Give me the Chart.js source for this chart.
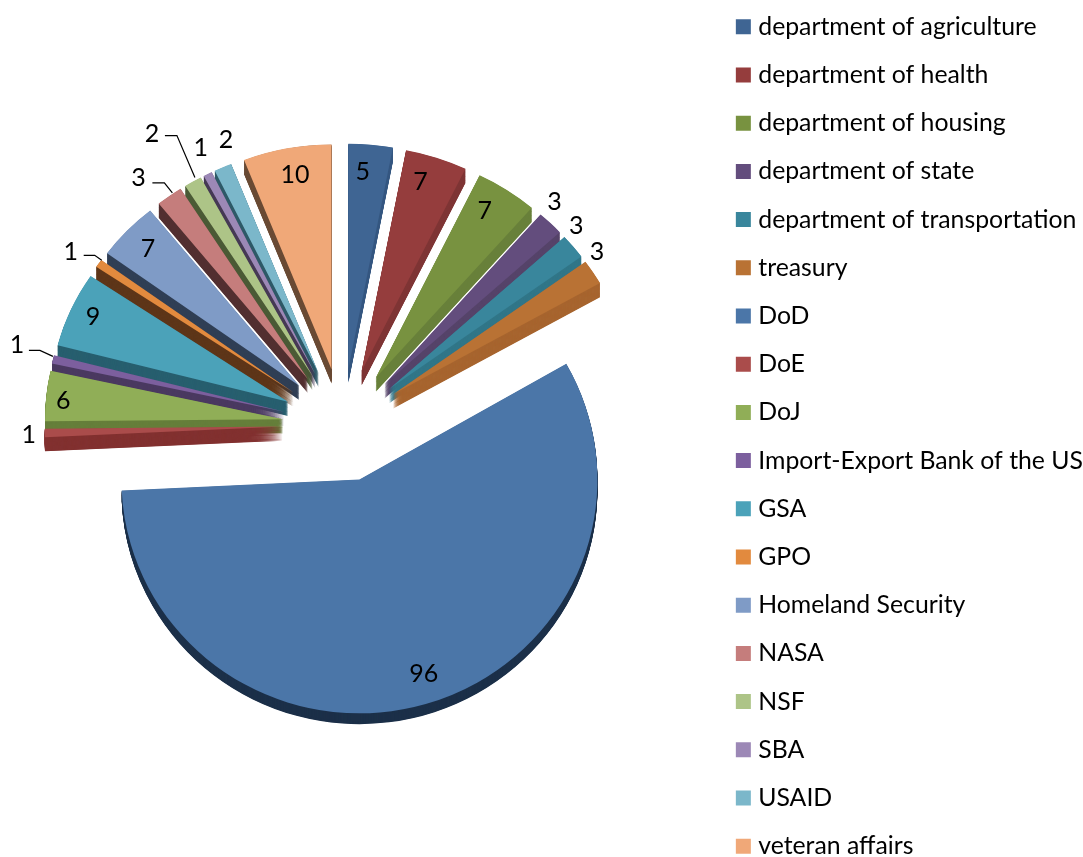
<!DOCTYPE html>
<html>
<head>
<meta charset="utf-8">
<title>Pie</title>
<script src="https://cdn.jsdelivr.net/npm/chart.js@4"></script>
<style>
    html, body { margin: 0; padding: 0; background: #fff; overflow: hidden; width: 1083px; height: 857px; }
    #wrap { position: absolute; left: 0; top: 0; width: 1083px; height: 857px; overflow: hidden; }
    #myChart { position: absolute; left: -12px; top: -9px; }
</style>
</head>
<body>
<div id="wrap"><canvas id="myChart" width="1109" height="900"></canvas></div>
<script>
var categories = ['department of agriculture', 'department of health', 'department of housing', 'department of state',
    'department of transportation', 'treasury', 'DoD', 'DoE', 'DoJ', 'Import-Export Bank of the US', 'GSA', 'GPO',
    'Homeland Security', 'NASA', 'NSF', 'SBA', 'USAID', 'veteran affairs'];
var values = [5, 7, 7, 3, 3, 3, 96, 1, 6, 1, 9, 1, 7, 3, 2, 1, 2, 10];

var faceColors = ['#3f6593', '#953d3d', '#789240', '#634d7d', '#39869c', '#b97234', '#4b76a8', '#aa4c4b', '#90ae57',
    '#7c5f9e', '#4ba2b9', '#e28a3e', '#7f9bc6', '#c57d7c', '#adc487', '#9c88b6', '#7bb7ca', '#f0a878'];
var wallColors = ['#365882', '#7f3535', '#68803a', '#554369', '#317688', '#a7652f', '#1c3049', '#823130', '#667f3b',
    '#4b3a61', '#285f6f', '#5e3619', '#303f55', '#522f30', '#4b5a36', '#463a55', '#2f5a68', '#6a4b35'];

// 바깥 호 중앙 기준 라벨 위치
var labelNudge = [[-8, 27], [-16, 24], [-22, 21], [4, -21], [3, -21], [4, -20], [-2, -30], [-16, 2], [17, 5],
    [-36, -14], [22, 8], [-28, -11], [21, 18], [-31, -18], [-41, -48], [-7, -26], [3, -27], [8, 27]];
// 지시선 (index: 꺾이는 점들)
var leaders = {
    9: [[-24, -9], [-13, -9], [0, -3]],
    11: [[-15, -8], [-4, -8], [3, -3]],
    13: [[-17, -13], [-5, -13], [3, -3]],
    14: [[-28, -46], [-16, -46], [2, -4]]
};

var explode = 60;
var faceRadius = 238;
var squash = 0.945;
var depth = 15;
var dodDepth = 11;
var dodIndex = 6;
var dodStretch = 1.04;
var legendFont = 24.8;
var labelFont = 25;
var centerShiftX = -10;
var centerShiftY = -16;

function sliceGeom(arc) {
    var p = arc.getProps(['x', 'y', 'startAngle', 'endAngle', 'outerRadius']);
    var mid = (p.startAngle + p.endAngle) / 2;
    return {
        start: p.startAngle, end: p.endAngle, mid: mid, x: p.x, cy: p.y,
        dx: Math.cos(mid) * explode,
        dy: Math.sin(mid) * explode,
        r: p.outerRadius
    };
}

// 찌그러진 3D 좌표계 적용 + 조각 분리
function applyTilt(ctx, g, index) {
    ctx.translate(centerShiftX, centerShiftY + g.cy);
    ctx.scale(1, squash);
    ctx.translate(g.dx, g.dy);
    if (index === dodIndex) ctx.scale(1, dodStretch);
    ctx.translate(0, -g.cy);
}

var pie3d = {
    id: 'pie3d',
    beforeDatasetDraw: function(chart, args) {
        var ctx = chart.ctx;
        var arcs = chart.getDatasetMeta(args.index).data;
        var order = arcs.map(function(a, i) { return i; });
        order.sort(function(a, b) {
            return Math.sin(sliceGeom(arcs[a]).mid) - Math.sin(sliceGeom(arcs[b]).mid);
        });
        order.forEach(function(i) {
            var g = sliceGeom(arcs[i]);
            var d = i === dodIndex ? dodDepth : depth;
            ctx.save();
            applyTilt(ctx, g, i);
            ctx.fillStyle = wallColors[i];
            for (var k = d; k >= 0.5; k -= 0.5) {
                ctx.beginPath();
                ctx.moveTo(g.x, g.cy + k);
                ctx.arc(g.x, g.cy + k, g.r, g.start, g.end);
                ctx.closePath();
                ctx.fill();
            }
            arcs[i].draw(ctx);
            ctx.restore();
        });
        return false;
    },
    afterDatasetsDraw: function(chart) {
        var ctx = chart.ctx;
        var arcs = chart.getDatasetMeta(0).data;
        ctx.save();
        ctx.font = labelFont + 'px Lato';
        ctx.textAlign = 'center';
        ctx.textBaseline = 'middle';
        arcs.forEach(function(arc, i) {
            var g = sliceGeom(arc);
            var k = i === dodIndex ? dodStretch : 1;
            // 화면 좌표로 변환한 바깥 호 중앙
            var ox = centerShiftX + g.x + g.dx + Math.cos(g.mid) * g.r;
            var oy = centerShiftY + g.cy + (g.dy + Math.sin(g.mid) * g.r * k) * squash;
            ctx.fillStyle = '#000';
            ctx.fillText(values[i], ox + labelNudge[i][0], oy + labelNudge[i][1]);
            if (leaders[i]) {
                ctx.beginPath();
                leaders[i].forEach(function(pt, n) {
                    if (n === 0) ctx.moveTo(ox + pt[0], oy + pt[1]);
                    else ctx.lineTo(ox + pt[0], oy + pt[1]);
                });
                ctx.strokeStyle = '#000';
                ctx.lineWidth = 1.2;
                ctx.stroke();
            }
        });
        ctx.restore();
    }
};

var myChart = new Chart(document.getElementById('myChart').getContext('2d'), {
    type: 'pie',
    data: {
        labels: categories,
        datasets: [{
            data: values,
            backgroundColor: faceColors,
            borderWidth: 0
        }]
    },
    options: {
        responsive: false,
        animation: false,
        radius: faceRadius,
        layout: { padding: { right: 4 } },
        plugins: {
            tooltip: { enabled: false },
            legend: {
                position: 'right',
                align: 'start',
                labels: {
                    boxWidth: 5,
                    boxHeight: 5,
                    padding: 48.2 - legendFont,
                    color: '#000',
                    font: { family: 'Lato', size: legendFont },
                    generateLabels: function() {
                        return categories.map(function(name, i) {
                            return { text: name, fillStyle: faceColors[i], strokeStyle: faceColors[i], lineWidth: 10, hidden: false, index: i };
                        });
                    }
                }
            }
        }
    },
    plugins: [pie3d]
});
</script>
</body>
</html>
